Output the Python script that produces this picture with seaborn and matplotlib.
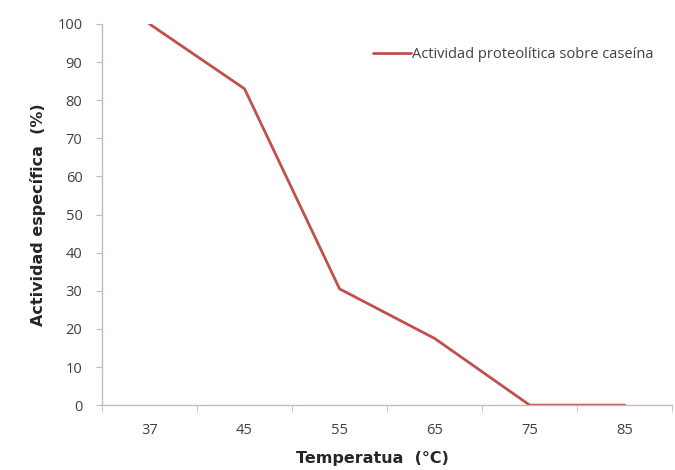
import numpy as np
import pandas as pd
import matplotlib
matplotlib.use("Agg")
import matplotlib.pyplot as plt
import seaborn as sns

# data
temperatures = ["37", "45", "55", "65", "75", "85"]
actividad = [100, 83, 30.5, 17.5, 0, 0]
serie = "Actividad proteolítica sobre caseína"

df = pd.DataFrame({"temp": temperatures, "act": actividad})

sns.set_style("white")
plt.rcParams["font.family"] = ["Open Sans", "DejaVu Sans"]

fig = plt.figure(figsize=(6.75, 4.7), dpi=100)
ax = fig.add_axes([0.151, 0.138, 0.845, 0.811])

sns.lineplot(data=df, x="temp", y="act", color="#c0504d", linewidth=2,
             label=serie, ax=ax, sort=False)

ax.set_xlim(-0.5, len(temperatures) - 0.5)
ax.set_ylim(0, 100)
ax.set_yticks(np.arange(0, 101, 10))

# excel style ticks between categories
ax.set_xticks(np.arange(-0.5, len(temperatures), 1), minor=True)
ax.tick_params(axis="x", which="major", length=0, pad=13, labelsize=10.5, colors="#404040")
ax.tick_params(axis="x", which="minor", length=5, color="#c8b8b8", direction="out", bottom=True)
ax.tick_params(axis="y", length=4, color="#c8b8b8", direction="out", left=True,
               labelsize=10.5, colors="#404040", pad=10)
for lab in ax.get_yticklabels():
    lab.set_color("#404040")

sns.despine(ax=ax, top=True, right=True)
for s in ["left", "bottom"]:
    ax.spines[s].set_color("#c8b8b8")
    ax.spines[s].set_linewidth(1)

ax.set_xlabel("Temperatua  (°C)", fontsize=11.5, fontweight="bold",
              family="DejaVu Sans", color="#262626", labelpad=6)
ax.set_ylabel("Actividad específica  (%)", fontsize=11.5, fontweight="bold",
              family="DejaVu Sans", color="#262626", labelpad=8)
ax.xaxis.set_label_coords(0.475, -0.12)

leg = ax.legend(loc="upper right", bbox_to_anchor=(0.99, 0.975), frameon=False,
                fontsize=10.5, handlelength=2.6, handletextpad=0.05)
for t in leg.get_texts():
    t.set_color("#404040")

fig.savefig("out.png", dpi=100)
